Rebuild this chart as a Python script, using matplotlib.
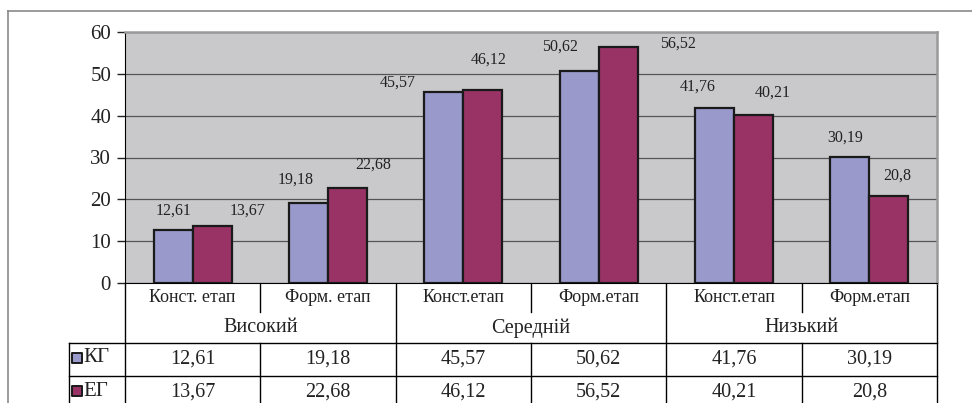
import matplotlib.pyplot as plt
from matplotlib.transforms import blended_transform_factory

plt.rcParams["font.family"] = ["Liberation Serif", "DejaVu Serif"]

# дані
categories = ["Конст. етап", "Форм. етап", "Конст.етап", "Форм.етап", "Конст.етап", "Форм.етап"]
groups = ["Високий", "Середній", "Низький"]
series_names = ["КГ", "ЕГ"]
kg = [12.61, 19.18, 45.57, 50.62, 41.76, 30.19]
eg = [13.67, 22.68, 46.12, 56.52, 40.21, 20.8]

colors = ["#9999cc", "#993366"]
# зсув підписів (пікселі) відносно верху стовпця
kg_off = [(0, 20), (-13, 23), (-46, 10), (-19, 25), (-17, 22), (-5, 19)]
eg_off = [(35, 15), (26, 23), (6, 30), (60, 3), (19, 22), (8, 20)]

W, H = 972, 403
fig = plt.figure(figsize=(W / 100, H / 100), dpi=100)

# накладка в пікселях для таблиці і рамки
ov = fig.add_axes([0, 0, 1, 1])
ov.set_xlim(0, W)
ov.set_ylim(H, 0)
ov.axis("off")

ax = fig.add_axes([125 / W, 1 - 283 / H, (937 - 125) / W, (283 - 32) / H])
ax.set_facecolor("#c9c9cb")
ax.set_xlim(-0.5, 5.5)
ax.set_ylim(0, 60)
ax.set_yticks(range(0, 61, 10))
ax.set_xticks([])
ax.grid(axis="y", color="#555555", linewidth=0.9)
ax.set_axisbelow(True)
ax.tick_params(axis="y", length=6, width=1, labelsize=15, pad=4, colors="#222222")
ax.spines["left"].set_color("black")
ax.spines["bottom"].set_color("black")
ax.spines["top"].set_color("#9a9a9a")
ax.spines["right"].set_color("#9a9a9a")
ax.spines["top"].set_linewidth(1.8)
ax.spines["right"].set_linewidth(1.8)

bw = 0.288
x = range(len(categories))
for vals, offs, col, sgn in [(kg, kg_off, colors[0], -1), (eg, eg_off, colors[1], 1)]:
    xs = [i + sgn * bw / 2 for i in x]
    ax.bar(xs, vals, width=bw, color=col, edgecolor="#1a1a1a", linewidth=1.6, zorder=3)
    for xi, v, (dx, dy) in zip(xs, vals, offs):
        ax.annotate(f"{v:g}".replace(".", ","), (xi, v), xytext=(dx, dy),
                    textcoords="offset pixels", ha="center", va="center",
                    fontsize=11.5, color="#222222", annotation_clip=False)

# таблиця
tr = blended_transform_factory(ax.transData, ov.transData)
lk = dict(color="black", linewidth=1, transform=tr, clip_on=False)
bounds = [i - 0.5 for i in range(len(categories) + 1)]
for i, b in enumerate(bounds):
    if i % 2 == 0:
        ov.plot([b, b], [283, H], **lk)
    else:
        ov.plot([b, b], [283, 312], **lk)
        ov.plot([b, b], [343, H], **lk)
ov.plot([69, 937], [343, 343], color="black", linewidth=1)
ov.plot([69, 937], [376, 376], color="black", linewidth=1)
ov.plot([69, 69], [343, H], color="black", linewidth=1)

for i, c in enumerate(categories):
    ov.text(i, 298, c, transform=tr, ha="center", va="center", fontsize=13, color="#222222")
for g, name in enumerate(groups):
    ov.text(2 * g + 0.5, 328, name, transform=tr, ha="center", va="center", fontsize=14.5, color="#222222")
for row_y, vals in [(359, kg), (392, eg)]:
    for i, v in enumerate(vals):
        ov.text(i, row_y, f"{v:g}".replace(".", ","), transform=tr, ha="center", va="center",
                fontsize=14.5, color="#222222")
for row_y, name, col in [(358, series_names[0], colors[0]), (391, series_names[1], colors[1])]:
    ov.scatter([77], [row_y], marker="s", s=55, color=col, edgecolor="#1a1a1a", linewidth=1.4)
    ov.text(83, row_y, name, ha="left", va="center", fontsize=15, color="#222222")

# зовнішня рамка
ov.plot([8, 8], [11, H], color="#8a8a8a", linewidth=1.2)
ov.plot([8, W], [11, 11], color="#8a8a8a", linewidth=1.2)

fig.savefig("out.png", dpi=100)
